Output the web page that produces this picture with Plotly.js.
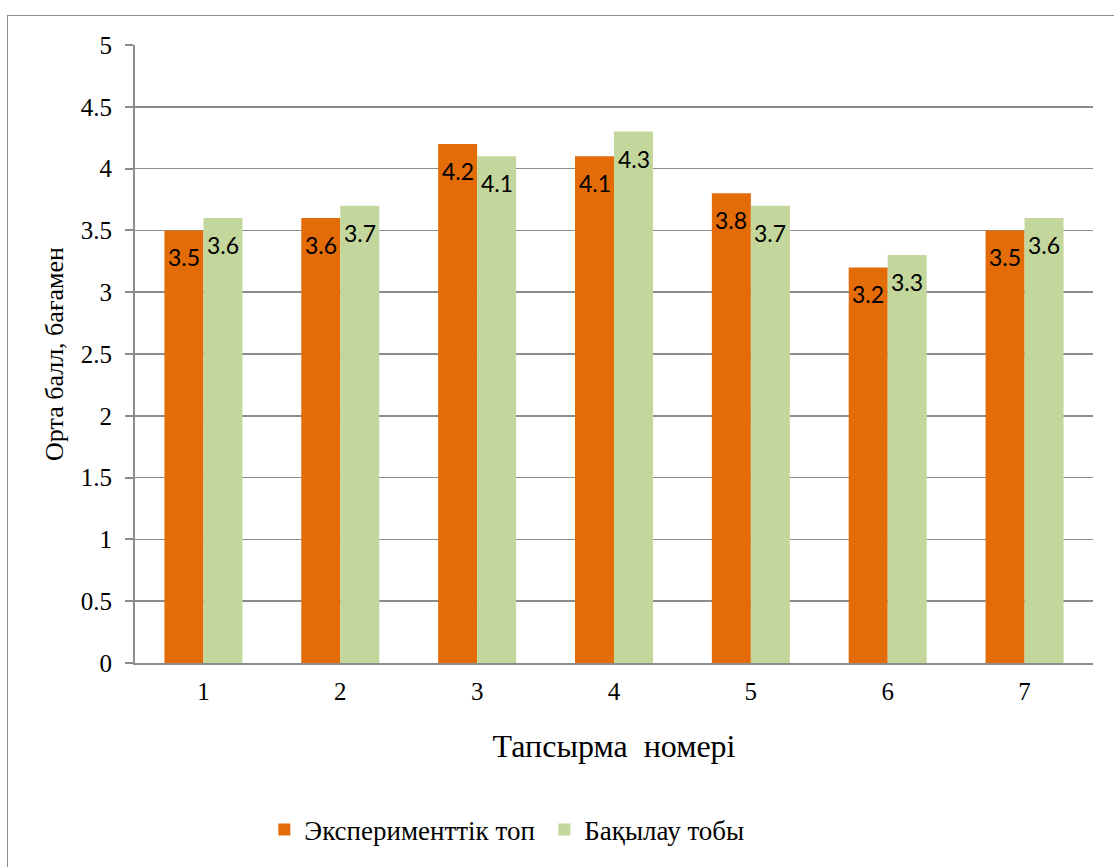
<!DOCTYPE html>
<html>
<head>
<meta charset="utf-8">
<script src="https://cdn.plot.ly/plotly-3.0.1.min.js"></script>
<style>
html,body{margin:0;padding:0;background:#fff;}
#chart{width:1114px;height:867px;position:absolute;left:0;top:0;}
#frame{position:absolute;left:7px;top:15px;width:1200px;height:1000px;border:1.5px solid #8c8c8c;box-sizing:border-box;pointer-events:none;}
</style>
</head>
<body>
<div id="chart"></div>
<div id="frame"></div>
<script>
const categories = ['1','2','3','4','5','6','7'];
const experimental = [3.5, 3.6, 4.2, 4.1, 3.8, 3.2, 3.5];
const control = [3.6, 3.7, 4.1, 4.3, 3.7, 3.3, 3.6];
const seriesNames = ['Эксперименттік топ', 'Бақылау тобы'];
const yTicks = [0, 0.5, 1, 1.5, 2, 2.5, 3, 3.5, 4, 4.5, 5];
const yTickText = ['0', '0.5', '1', '1.5', '2', '2.5', '3', '3.5', '4', '4.5', '5'];

const serif = 'Liberation Serif';
const labelFont = {family: 'Lato', size: 23, color: '#000'};

const traces = [
  {type: 'bar', x: categories, y: experimental, name: seriesNames[0],
   marker: {color: '#E36C09'}, hoverinfo: 'skip'},
  {type: 'bar', x: categories, y: control, name: seriesNames[1],
   marker: {color: '#C3D69B'}, hoverinfo: 'skip'}
];

// value labels, anchored on each bar's data value (category index + offset within group)
const barShift = 19.5;
const annotations = [];
[experimental, control].forEach((series, si) => {
  series.forEach((v, i) => {
    annotations.push({
      x: i, y: v, xref: 'x', yref: 'y',
      text: v.toFixed(1), showarrow: false,
      xanchor: 'center', yanchor: 'top',
      xshift: si === 0 ? -barShift : barShift, yshift: -11,
      font: labelFont
    });
  });
});

const layout = {
  width: 1114, height: 867,
  margin: {l: 135, r: 21, t: 45, b: 204},
  paper_bgcolor: '#fff', plot_bgcolor: '#fff',
  barmode: 'group', bargap: 0.43, bargroupgap: 0,
  font: {family: serif, color: '#000'},
  xaxis: {
    type: 'category', automargin: false,
    range: [-0.5, categories.length - 0.5],
    showline: true, linecolor: '#8c8c8c', linewidth: 2,
    ticks: '', showgrid: false,
    tickfont: {family: serif, size: 25, color: '#000'},
    ticklabelstandoff: 5,
    title: {text: 'Тапсырма  номері', font: {family: serif, size: 32, color: '#000'}, standoff: 31}
  },
  yaxis: {
    range: [0, 5], tickvals: yTicks, ticktext: yTickText, automargin: false,
    showline: true, linecolor: '#8c8c8c', linewidth: 2,
    ticks: 'outside', ticklen: 8, tickcolor: '#8c8c8c', tickwidth: 2,
    showgrid: true, gridcolor: '#8c8c8c', gridwidth: 1.5,
    zeroline: false,
    tickfont: {family: serif, size: 25, color: '#000'},
    ticklabelstandoff: 8,
    title: {text: 'Орта балл, бағамен', font: {family: serif, size: 26, color: '#000'}, standoff: 10}
  },
  annotations: annotations,
  showlegend: true,
  legend: {
    orientation: 'h', x: 0.135, xanchor: 'left', xref: 'paper',
    y: 1 - 830/867, yanchor: 'middle', yref: 'container',
    font: {family: serif, size: 27, color: '#000'},
    itemwidth: 30, tracegroupgap: 0,
    entrywidth: 235, entrywidthmode: 'pixels'
  }
};

Plotly.newPlot('chart', traces, layout, {displayModeBar: false, staticPlot: true});
</script>
</body>
</html>
